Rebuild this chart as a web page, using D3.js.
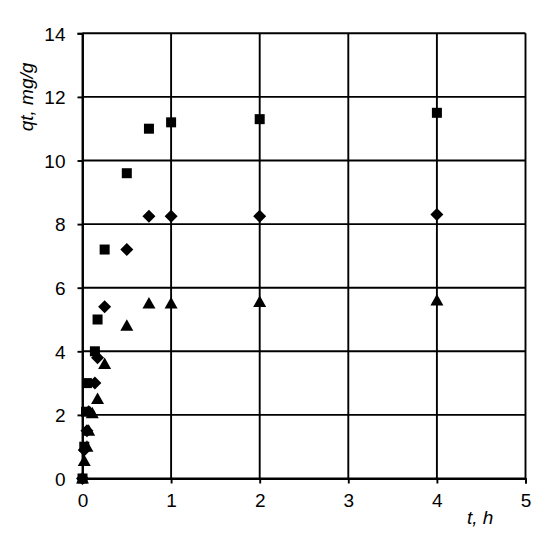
<!DOCTYPE html>
<html>
<head>
<meta charset="utf-8">
<script src="https://cdn.jsdelivr.net/npm/d3@7"></script>
<style>
  html, body { margin: 0; padding: 0; background: #fff; }
  svg { display: block; font-family: "Liberation Sans", Arial, sans-serif; }
</style>
</head>
<body>
<svg id="chart" width="550" height="534"></svg>
<script>
// ---- data ----
const xTicks = [0, 1, 2, 3, 4, 5];
const yTicks = [0, 2, 4, 6, 8, 10, 12, 14];

const squareT = [0, 0.02, 0.04, 0.05, 0.14, 0.17, 0.25, 0.5, 0.75, 1, 2, 4];
const squareQ = [0, 1.0, 2.1, 3.0, 4.0, 5.0, 7.2, 9.6, 11.0, 11.2, 11.3, 11.5];

const diamondT = [0, 0.02, 0.05, 0.07, 0.14, 0.17, 0.25, 0.5, 0.75, 1, 2, 4];
const diamondQ = [0, 0.9, 1.5, 2.1, 3.0, 3.8, 5.4, 7.2, 8.25, 8.25, 8.25, 8.3];

const triangleT = [0, 0.02, 0.05, 0.07, 0.11, 0.17, 0.25, 0.5, 0.75, 1, 2, 4];
const triangleQ = [0, 0.55, 1.0, 1.5, 2.05, 2.5, 3.6, 4.8, 5.5, 5.5, 5.55, 5.6];

// ---- layout ----
const svg = d3.select("#chart");
const x = d3.scaleLinear().domain([0, 5]).range([82.5, 525.5]);
const y = d3.scaleLinear().domain([0, 14]).range([478.5, 33.3]);
const lw = 1.9;

// grid
const grid = svg.append("g").attr("stroke", "#000").attr("stroke-width", lw);
grid.selectAll("line.v").data(xTicks).join("line")
  .attr("x1", d => x(d)).attr("x2", d => x(d))
  .attr("y1", y(14)).attr("y2", y(0));
grid.selectAll("line.h").data(yTicks).join("line")
  .attr("x1", x(0)).attr("x2", x(5))
  .attr("y1", d => y(d)).attr("y2", d => y(d));

// axes
const xAxis = svg.append("g").attr("transform", `translate(0,${y(0)})`)
  .call(d3.axisBottom(x).tickValues(xTicks).tickFormat(d3.format("d")).tickSize(5).tickPadding(10));
const yAxis = svg.append("g").attr("transform", `translate(${x(0)},0)`)
  .call(d3.axisLeft(y).tickValues(yTicks).tickFormat(d3.format("d")).tickSize(5).tickPadding(12));
[xAxis, yAxis].forEach(a => {
  a.select(".domain").attr("stroke", "#000").attr("stroke-width", lw);
  a.selectAll(".tick line").attr("stroke", "#000").attr("stroke-width", lw);
  a.selectAll(".tick text").attr("fill", "#000")
    .style("font-size", "19px").style("font-family", "'Liberation Sans', Arial, sans-serif");
});
yAxis.selectAll(".tick text").attr("dy", "0.36em");

// axis titles
svg.append("text")
  .attr("transform", `translate(33,97) rotate(-90)`)
  .attr("text-anchor", "middle")
  .style("font-size", "19px").style("font-style", "italic")
  .text("qt, mg/g");
svg.append("text")
  .attr("x", 467).attr("y", 524)
  .style("font-size", "19px").style("font-style", "italic")
  .text("t, h");

// markers
const marks = svg.append("g").attr("fill", "#000");
const sq = 10;
marks.selectAll("rect.sq").data(d3.zip(squareT, squareQ)).join("rect")
  .attr("x", d => x(d[0]) - sq / 2).attr("y", d => y(d[1]) - sq / 2)
  .attr("width", sq).attr("height", sq);

const diamond = "M0,-6.5L6.5,0L0,6.5L-6.5,0Z";
marks.selectAll("path.dm").data(d3.zip(diamondT, diamondQ)).join("path")
  .attr("d", diamond)
  .attr("transform", d => `translate(${x(d[0])},${y(d[1])})`);

const tri = "M0,-6.5L6.5,5L-6.5,5Z";
marks.selectAll("path.tr").data(d3.zip(triangleT, triangleQ)).join("path")
  .attr("d", tri)
  .attr("transform", d => `translate(${x(d[0])},${y(d[1])})`);
</script>
</body>
</html>
